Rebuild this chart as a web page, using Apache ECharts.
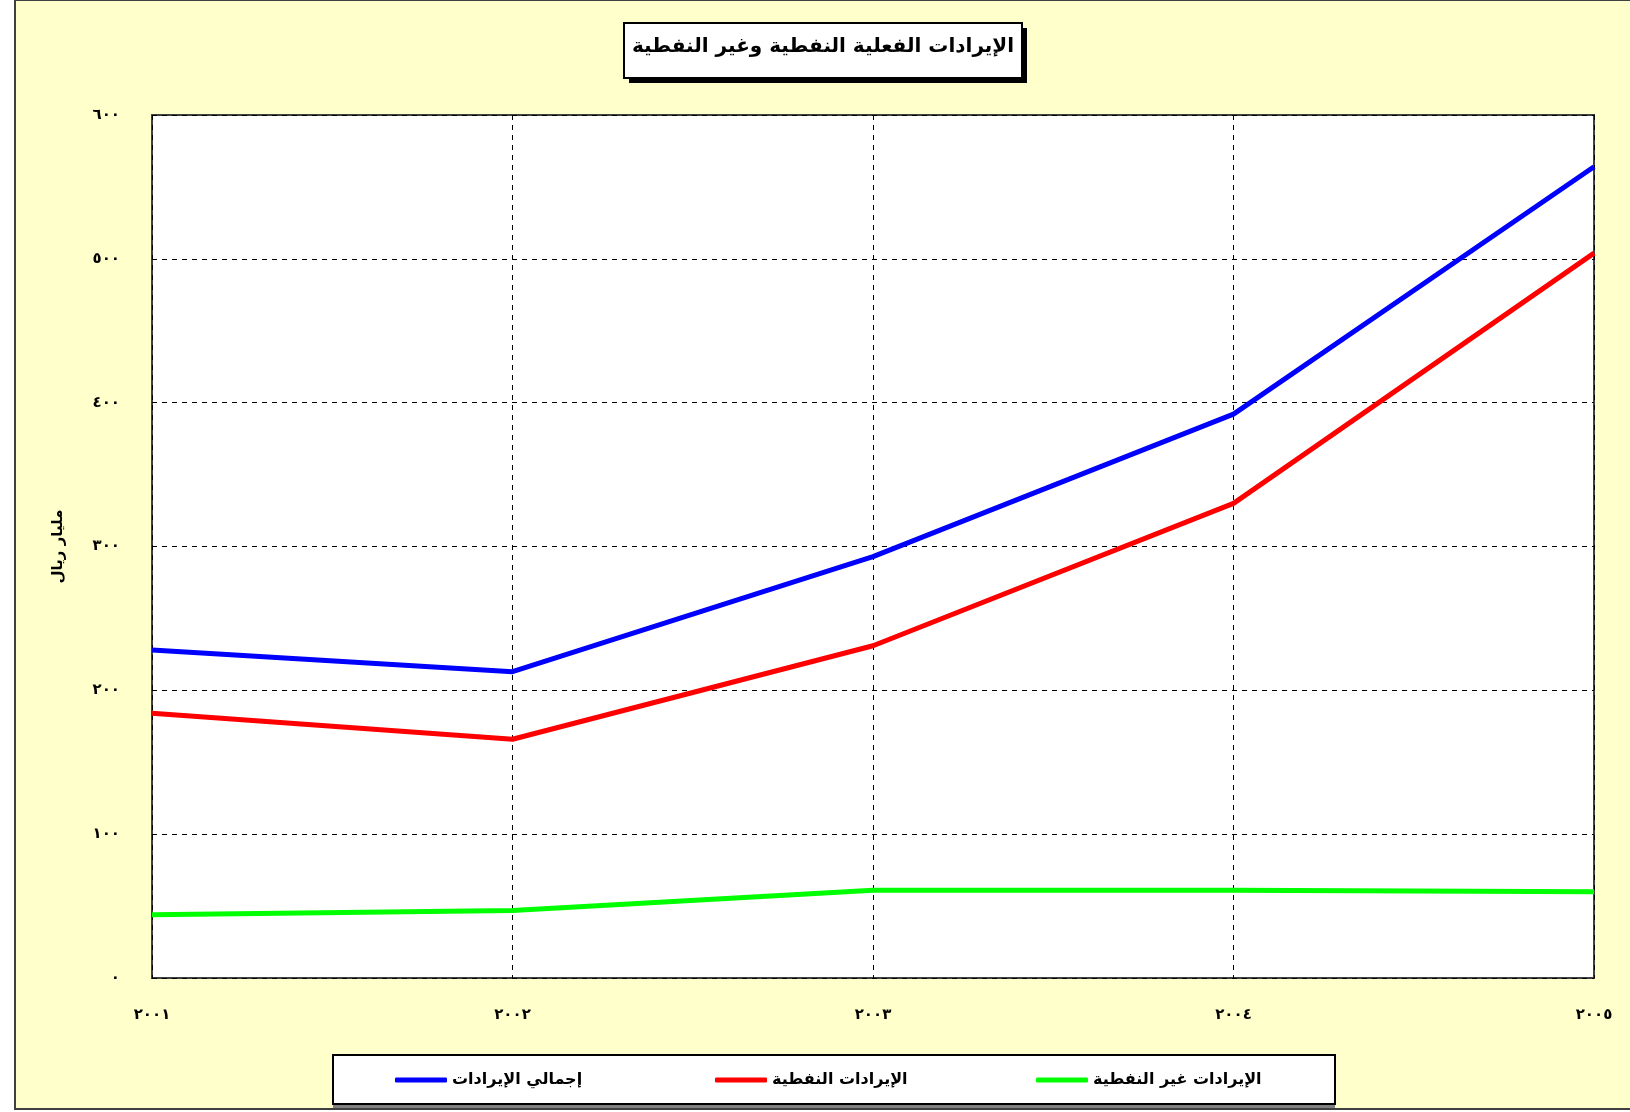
<!DOCTYPE html>
<html>
<head>
<meta charset="utf-8">
<script src="https://cdn.jsdelivr.net/npm/echarts@6/dist/echarts.min.js"></script>
<style>
html,body{margin:0;padding:0;background:#ffffff;}
#bg{position:absolute;left:14px;top:0;width:1616px;height:1110px;background:#FFFFCC;border-left:2px solid #404040;border-top:1px solid #404040;border-bottom:2px solid #404040;box-sizing:border-box;}
#chart{position:absolute;left:0;top:0;width:1630px;height:1112px;}
</style>
</head>
<body>
<div id="bg"></div>
<div id="chart"></div>
<script>
const years = ['٢٠٠١', '٢٠٠٢', '٢٠٠٣', '٢٠٠٤', '٢٠٠٥'];
const totalRevenue = [228, 213, 293, 392, 564];
const oilRevenue = [184, 166, 231, 330, 504];
const nonOilRevenue = [44, 47, 61, 61, 60];
const yTickValues = [0, 100, 200, 300, 400, 500, 600];
const yTickLabels = ['٠', '١٠٠', '٢٠٠', '٣٠٠', '٤٠٠', '٥٠٠', '٦٠٠'];
const seriesNames = ['إجمالي الإيرادات', 'الإيرادات النفطية', 'الإيرادات غير النفطية'];
const seriesColors = ['#0000FF', '#FF0000', '#00FF00'];
const titleText = 'الإيرادات الفعلية النفطية وغير النفطية';
const yAxisName = 'مليار ريال';

const FONT = 'DejaVu Sans';
const chart = echarts.init(document.getElementById('chart'), null, {renderer: 'canvas'});
const mkSeries = (name, data, color) => ({
  name, type: 'line', data, symbol: 'none', smooth: false,
  lineStyle: {color, width: 5}, itemStyle: {color}
});
const legendLefts = [395, 715, 1036];
chart.setOption({
  backgroundColor: 'transparent',
  animation: false,
  graphic: [
    {type: 'rect', z: 0, shape: {x: 629, y: 28, width: 398, height: 55}, style: {fill: '#000'}},
    {type: 'rect', z: 1, shape: {x: 624, y: 23, width: 398, height: 55}, style: {fill: '#fff', stroke: '#000', lineWidth: 2}},
    {type: 'rect', z: 0, shape: {x: 333, y: 1059, width: 1002, height: 49}, style: {fill: '#808080'}},
    {type: 'rect', z: 1, shape: {x: 333, y: 1055, width: 1002, height: 49}, style: {fill: '#fff', stroke: '#000', lineWidth: 2}}
  ],
  title: {
    text: titleText,
    left: 823, textAlign: 'center', top: 37, padding: 0,
    textStyle: {fontFamily: FONT, fontSize: 20, fontWeight: 'bold', color: '#000'}
  },
  legend: seriesNames.map((n, i) => ({
    data: [n], left: legendLefts[i], top: 1072, padding: 0, z: 5,
    icon: 'roundRect', itemWidth: 52, itemHeight: 5,
    textStyle: {fontFamily: FONT, fontSize: 16, fontWeight: 'bold', color: '#000'}
  })),
  grid: {
    left: 152, right: 36, top: 115, bottom: 134,
    show: true, backgroundColor: '#ffffff', borderColor: '#404040', borderWidth: 2
  },
  xAxis: {
    type: 'category', data: years, boundaryGap: false,
    axisLine: {show: false}, axisTick: {show: false},
    axisLabel: {margin: 30, fontFamily: FONT, fontSize: 15, fontWeight: 'bold', color: '#000'},
    splitLine: {show: true, lineStyle: {color: '#000', width: 1, type: [5, 5]}}
  },
  yAxis: {
    type: 'value', min: 0, max: 600, interval: 100,
    name: yAxisName, nameLocation: 'middle', nameGap: 86, nameRotate: 90,
    nameTextStyle: {fontFamily: FONT, fontSize: 15, fontWeight: 'bold', color: '#000'},
    axisLine: {show: false}, axisTick: {show: false},
    axisLabel: {
      margin: 32, fontFamily: FONT, fontSize: 15, fontWeight: 'bold', color: '#000',
      formatter: v => yTickLabels[yTickValues.indexOf(v)]
    },
    splitLine: {show: true, lineStyle: {color: '#000', width: 1, type: [5, 5]}}
  },
  series: seriesNames.map((n, i) => mkSeries(n, [totalRevenue, oilRevenue, nonOilRevenue][i], seriesColors[i]))
});
</script>
</body>
</html>
